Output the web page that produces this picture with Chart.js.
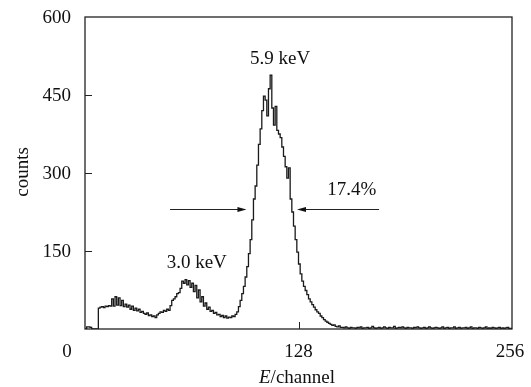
<!DOCTYPE html>
<html>
<head>
<meta charset="utf-8">
<script src="https://cdn.jsdelivr.net/npm/chart.js@4.4.0/dist/chart.umd.min.js"></script>
<style>
    html, body { margin: 0; padding: 0; background: #fff; }
</style>
</head>
<body>
<canvas id="chart" width="531" height="387"></canvas>
<script>
// counts per channel (channels 0..255)
const counts = [
    0, 0, 4, 4, 3, 0, 0, 0, 0,
    40, 42, 43, 41, 44, 43, 45, 44,
    58, 44, 62, 46, 60, 45, 55, 43,
    48, 42, 46, 38, 44, 36, 40, 35, 38, 32, 34, 30, 28, 31, 26, 27, 24, 25, 22,
    27, 30, 33, 32, 36, 34, 38,
    36, 45, 55, 58, 62, 68, 70, 78,
    92, 88, 95, 85, 93, 80, 88,
    72, 84, 60, 75, 52, 62, 44, 50, 38, 42,
    34, 36, 30, 32, 27, 28, 24, 26, 22, 25, 21, 23, 22, 25, 24, 28, 33,
    43, 55, 68, 82, 100, 120, 145, 172, 210, 250, 275, 315,
    355, 385, 420, 448, 440, 410, 462, 488, 425, 392, 428, 382, 375, 368, 350, 332, 312, 290, 310,
    250, 225, 198, 172, 148, 125, 106, 92, 82, 74, 66, 58, 52, 47, 42, 37, 33, 30, 25, 22, 18, 15, 13, 11, 9, 7, 8, 5, 4, 6, 3,
    3, 2, 4, 2, 1, 3, 2, 2, 1, 3, 2, 4, 1, 2, 2, 3, 1, 2, 5, 2,
    1, 2, 3, 1, 2, 4, 2, 1, 3, 2, 2, 5, 1, 2, 3, 2, 4, 2, 1, 3,
    2, 2, 1, 3, 2, 4, 2, 1, 2, 3, 1, 2, 4, 2, 1, 2, 3, 2, 1, 2,
    4, 1, 2, 3, 1, 2, 2, 4, 1, 2, 3, 1, 2, 2, 3, 1, 2, 4, 1, 2,
    2, 1, 3, 2, 1, 2, 4, 1, 2, 1, 3, 2, 1, 2, 3, 1, 2, 1, 2, 3,
    1
];

const xTicks = [0, 128, 256];
const yTicks = [150, 300, 450, 600];

// annotations in data units (channel, counts)
const peakNotes = ["5.9 keV", "3.0 keV", "17.4%"];
const noteChannels = [117, 67, 160];
const noteCounts = [519, 126, 267];

// FWHM arrows: start channel -> tip channel, at half maximum
const arrowFrom = [51, 176.3];
const arrowTo = [96.8, 127.1];
const halfMax = 230;

const FONT = "19px 'Liberation Serif', 'Times New Roman', serif";

const points = counts.map((v, i) => ({ x: i, y: v }));
points.push({ x: 256, y: counts[counts.length - 1] });

const decorations = {
    id: "decorations",
    afterDraw(chart) {
        const ctx = chart.ctx;
        const xs = chart.scales.x;
        const ys = chart.scales.y;
        const a = chart.chartArea;

        ctx.save();
        ctx.strokeStyle = "#222";
        ctx.fillStyle = "#111";
        ctx.lineWidth = 1.3;

        // frame
        ctx.strokeRect(a.left, a.top, a.right - a.left, a.bottom - a.top);

        // inward tick marks
        ctx.lineWidth = 1;
        ctx.beginPath();
        yTicks.slice(0, -1).forEach((v) => {
            const y = Math.round(ys.getPixelForValue(v)) + 0.5;
            ctx.moveTo(a.left, y);
            ctx.lineTo(a.left + 7, y);
        });
        const xm = Math.round(xs.getPixelForValue(128)) + 0.5;
        ctx.moveTo(xm, a.bottom);
        ctx.lineTo(xm, a.bottom - 7);
        ctx.stroke();

        ctx.font = FONT;

        // y tick labels
        ctx.textAlign = "right";
        ctx.textBaseline = "middle";
        yTicks.forEach((v) => {
            ctx.fillText(String(v), a.left - 14, ys.getPixelForValue(v) + 1);
        });

        // x tick labels (the 0 sits left of the axis in the original)
        const xShift = [-18, 0, -2];
        ctx.textAlign = "center";
        xTicks.forEach((v, i) => {
            ctx.fillText(String(v), xs.getPixelForValue(v) + xShift[i], 352);
        });

        // axis titles
        ctx.save();
        ctx.translate(23, 172);
        ctx.rotate(-Math.PI / 2);
        ctx.fillText("counts", 0, 0);
        ctx.restore();

        const italic = "italic " + FONT;
        ctx.font = italic;
        const wE = ctx.measureText("E").width;
        ctx.font = FONT;
        const wRest = ctx.measureText("/channel").width;
        const startX = 297 - (wE + wRest) / 2;
        ctx.textAlign = "left";
        ctx.font = italic;
        ctx.fillText("E", startX, 378);
        ctx.font = FONT;
        ctx.fillText("/channel", startX + wE, 378);

        // peak labels
        ctx.textAlign = "center";
        peakNotes.forEach((t, i) => {
            ctx.fillText(t, xs.getPixelForValue(noteChannels[i]), ys.getPixelForValue(noteCounts[i]));
        });

        // arrows
        const ay = Math.round(ys.getPixelForValue(halfMax)) + 0.5;
        arrowFrom.forEach((f, i) => {
            const x0 = xs.getPixelForValue(f);
            const x1 = xs.getPixelForValue(arrowTo[i]);
            const dir = Math.sign(x1 - x0);
            ctx.beginPath();
            ctx.moveTo(x0, ay);
            ctx.lineTo(x1 - dir * 6, ay);
            ctx.stroke();
            ctx.beginPath();
            ctx.moveTo(x1, ay);
            ctx.lineTo(x1 - dir * 9, ay - 2.5);
            ctx.lineTo(x1 - dir * 9, ay + 2.5);
            ctx.closePath();
            ctx.fill();
        });

        ctx.restore();
    }
};

new Chart(document.getElementById("chart").getContext("2d"), {
    type: "line",
    data: {
        datasets: [{
            data: points,
            stepped: "after",
            borderColor: "#1a1a1a",
            borderWidth: 1.3,
            pointRadius: 0,
            fill: false
        }]
    },
    options: {
        responsive: false,
        animation: false,
        layout: { padding: { left: 85, right: 19, top: 17, bottom: 58 } },
        plugins: { legend: { display: false }, tooltip: { enabled: false } },
        scales: {
            x: { type: "linear", min: 0, max: 256, display: false },
            y: { type: "linear", min: 0, max: 600, display: false }
        }
    },
    plugins: [decorations]
});
</script>
</body>
</html>
